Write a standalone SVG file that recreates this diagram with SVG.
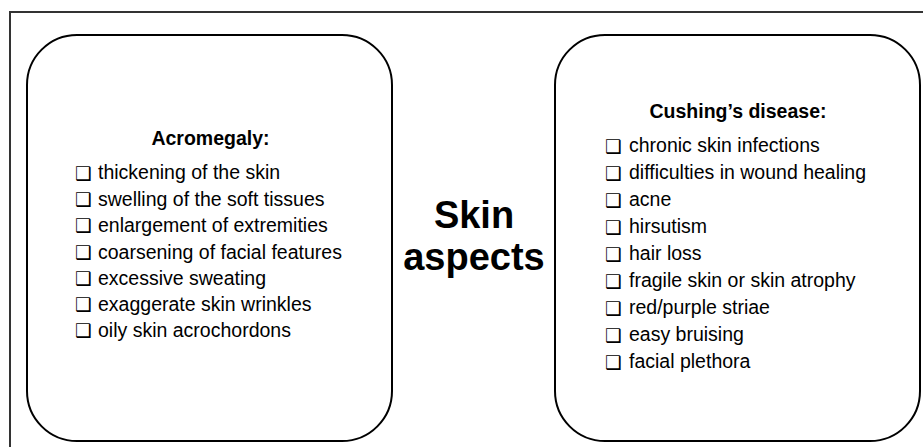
<svg xmlns="http://www.w3.org/2000/svg" width="923" height="447" viewBox="0 0 923 447">
<style>
.frame{fill:none;stroke:#333;stroke-width:2}
.box{fill:#fff;stroke:#000;stroke-width:2}
.hd{font-family:"Liberation Sans",Arial,sans-serif;font-weight:bold;font-size:19.5px;fill:#000;text-anchor:middle}
.it{font-family:"Liberation Sans",Arial,sans-serif;font-size:19.5px;fill:#000}
.cb{font-family:"DejaVu Sans",sans-serif;font-weight:bold;font-size:18.5px;fill:#000}
.big{font-family:"Liberation Sans",Arial,sans-serif;font-weight:bold;font-size:38px;fill:#000;text-anchor:middle}
</style>
<rect width="923" height="447" fill="#fff"/>
<rect class="frame" x="10" y="12" width="930" height="450"/>
<g id="acromegaly">
<rect class="box" x="27" y="35" width="365" height="406" rx="50" ry="50"/>
<text class="hd" x="210.5" y="145">Acromegaly:</text>
<g class="cb">
<text x="75" y="179.5">❑</text>
<text x="75" y="205.5">❑</text>
<text x="75" y="232">❑</text>
<text x="75" y="258.5">❑</text>
<text x="75" y="285">❑</text>
<text x="75" y="311">❑</text>
<text x="75" y="337">❑</text>
</g>
<g class="it">
<text x="98" y="179">thickening of the skin</text>
<text x="98" y="205.5">swelling of the soft tissues</text>
<text x="98" y="232">enlargement of extremities</text>
<text x="98" y="258.5">coarsening of facial features</text>
<text x="98" y="285">excessive sweating</text>
<text x="98" y="311">exaggerate skin wrinkles</text>
<text x="98" y="337">oily skin acrochordons</text>
</g>
</g>
<g id="title">
<text class="big" x="474" y="228">Skin</text>
<text class="big" x="474" y="270">aspects</text>
</g>
<g id="cushing">
<rect class="box" x="555" y="35" width="365" height="406" rx="50" ry="50"/>
<text class="hd" x="738" y="118">Cushing’s disease:</text>
<g class="cb">
<text x="605" y="152.5">❑</text>
<text x="605" y="179.5">❑</text>
<text x="605" y="206.5">❑</text>
<text x="605" y="233.5">❑</text>
<text x="605" y="260.5">❑</text>
<text x="605" y="287.5">❑</text>
<text x="605" y="314.5">❑</text>
<text x="605" y="341.5">❑</text>
<text x="605" y="368.5">❑</text>
</g>
<g class="it">
<text x="629" y="152">chronic skin infections</text>
<text x="629" y="179">difficulties in wound healing</text>
<text x="629" y="206">acne</text>
<text x="629" y="233">hirsutism</text>
<text x="629" y="260">hair loss</text>
<text x="629" y="287">fragile skin or skin atrophy</text>
<text x="629" y="314">red/purple striae</text>
<text x="629" y="341">easy bruising</text>
<text x="629" y="368">facial plethora</text>
</g>
</g>
<g id="connectors"/>
</svg>
